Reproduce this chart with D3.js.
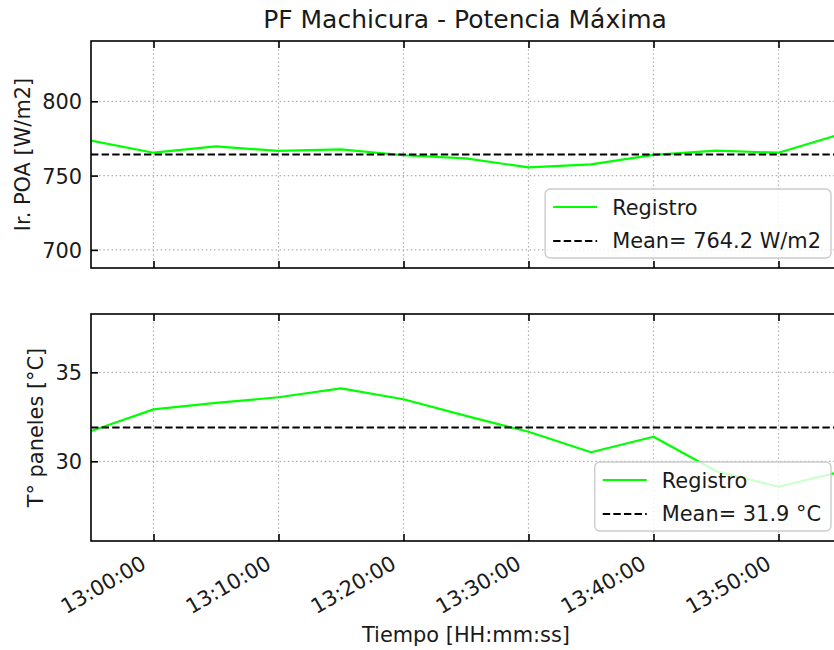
<!DOCTYPE html>
<html>
<head>
<meta charset="utf-8">
<script src="https://cdn.jsdelivr.net/npm/d3@7"></script>
<style>
  html, body { margin: 0; padding: 0; background: #fff; }
  svg { display: block; font-family: "DejaVu Sans", sans-serif; }
</style>
</head>
<body>
<svg id="chart" width="834" height="650"></svg>
<script>
// ---- data ----
const times = ["12:55","13:00","13:05","13:10","13:15","13:20","13:25","13:30","13:35","13:40","13:45","13:50","13:55"];
const irradiance = [773.5, 765.4, 769.7, 766.6, 767.7, 763.7, 761.6, 755.5, 757.6, 763.9, 766.8, 765.4, 778.0];
const temperature = [31.70, 32.92, 33.28, 33.60, 34.10, 33.49, 32.55, 31.66, 30.51, 31.38, 29.45, 28.57, 29.42];
const irrMean = 764.2;
const tempMean = 31.9;
const irrLimits = [687.8, 840.6];
const tempLimits = [25.52, 38.28];
const irrTicks = [700, 750, 800];
const tempTicks = [30, 35];
const xDomain = ["12:55", "13:55"];
const titleText = "PF Machicura - Potencia Máxima";
const xLabel = "Tiempo [HH:mm:ss]";
const irrLabel = "Ir. POA [W/m2]";
const tempLabel = "T° paneles [°C]";
const seriesName = "Registro";
const irrMeanLabel = "Mean= 764.2 W/m2";
const tempMeanLabel = "Mean= 31.9 °C";

// ---- layout ----
const parse = d3.timeParse("%H:%M");
const svg = d3.select("#chart");
const left = 91, right = 841;
const panels = [
  {top: 41, bottom: 268, values: irradiance, mean: irrMean, lim: irrLimits, ticks: irrTicks, label: irrLabel, meanLabel: irrMeanLabel, id: "p1"},
  {top: 314, bottom: 541, values: temperature, mean: tempMean, lim: tempLimits, ticks: tempTicks, label: tempLabel, meanLabel: tempMeanLabel, id: "p2"}
];
const x = d3.scaleTime().domain(xDomain.map(parse)).range([left, right]);
const xTicks = d3.timeMinute.every(10).range(parse("12:55"), new Date(parse("13:55").getTime() + 1));
const fmt = d3.timeFormat("%H:%M:%S");
const green = "#00ff00";
const textColor = "#1a1a1a";
const fs = 20.9;

panels.forEach((p, pi) => {
  const y = d3.scaleLinear().domain(p.lim).range([p.bottom, p.top]);
  const g = svg.append("g");
  g.append("clipPath").attr("id", "clip" + p.id)
    .append("rect").attr("x", left).attr("y", p.top).attr("width", right - left).attr("height", p.bottom - p.top);

  // grid
  const grid = g.append("g").attr("stroke", "#b0b0b0").attr("stroke-width", 1.2).attr("stroke-dasharray", "1.5,2.6");
  xTicks.forEach(t => grid.append("line").attr("x1", x(t)).attr("x2", x(t)).attr("y1", p.top).attr("y2", p.bottom));
  p.ticks.forEach(v => grid.append("line").attr("x1", left).attr("x2", right).attr("y1", y(v)).attr("y2", y(v)));

  // data
  const data = times.map((t, i) => ({t: parse(t), v: p.values[i]}));
  const plot = g.append("g").attr("clip-path", `url(#clip${p.id})`);
  plot.append("path").datum(data)
    .attr("fill", "none").attr("stroke", green).attr("stroke-width", 2.2)
    .attr("stroke-linejoin", "round")
    .attr("d", d3.line().x(d => x(d.t)).y(d => y(d.v)));
  plot.append("line").attr("x1", left).attr("x2", right).attr("y1", y(p.mean)).attr("y2", y(p.mean))
    .attr("stroke", "#000").attr("stroke-width", 2).attr("stroke-dasharray", "7.4,3.2");

  // axes via d3 axes (inward ticks)
  const axB = g.append("g").attr("transform", `translate(0,${p.bottom})`)
    .call(d3.axisBottom(x).tickValues(xTicks).tickSizeInner(-7).tickSizeOuter(0).tickFormat(""));
  const axT = g.append("g").attr("transform", `translate(0,${p.top})`)
    .call(d3.axisTop(x).tickValues(xTicks).tickSizeInner(-7).tickSizeOuter(0).tickFormat(""));
  const axL = g.append("g").attr("transform", `translate(${left},0)`)
    .call(d3.axisLeft(y).tickValues(p.ticks).tickSizeInner(-7).tickSizeOuter(0).tickPadding(9));
  const axR = g.append("g").attr("transform", `translate(${right},0)`)
    .call(d3.axisRight(y).tickValues(p.ticks).tickSizeInner(-7).tickSizeOuter(0).tickFormat(""));
  [axB, axT, axL, axR].forEach(a => {
    a.select(".domain").remove();
    a.selectAll(".tick line").attr("stroke", "#000").attr("stroke-width", 1.6);
  });
  axL.selectAll(".tick text").attr("font-size", fs).attr("fill", textColor)
    .attr("font-family", "DejaVu Sans").attr("x", -9).attr("dy", "0.36em");

  // spines
  g.append("rect").attr("x", left).attr("y", p.top).attr("width", right - left).attr("height", p.bottom - p.top)
    .attr("fill", "none").attr("stroke", "#000").attr("stroke-width", 1.6);

  // y label
  let minX = Infinity;
  axL.selectAll(".tick text").each(function() {
    const b = this.getBBox();
    minX = Math.min(minX, left + b.x);
  });
  const ylx = minX - 12;
  const ylY = (p.top + p.bottom) / 2;
  g.append("text").attr("transform", `translate(${ylx},${ylY}) rotate(-90)`)
    .attr("text-anchor", "middle").attr("font-size", fs).attr("fill", textColor)
    .text(p.label);

  // legend
  const leg = g.append("g");
  const t1 = leg.append("text").attr("font-size", fs).attr("fill", textColor).text(seriesName);
  const t2 = leg.append("text").attr("font-size", fs).attr("fill", textColor).text(p.meanLabel);
  const tw = Math.max(t1.node().getComputedTextLength(), t2.node().getComputedTextLength());
  const bw = 67 + tw + 10, bh = 69;
  const bx = right - 10 - bw, by = p.bottom - 10 - bh;
  leg.insert("rect", "text").attr("x", bx).attr("y", by).attr("width", bw).attr("height", bh)
    .attr("rx", 5).attr("fill", "#fff").attr("fill-opacity", 0.8)
    .attr("stroke", "#cccccc").attr("stroke-width", 1.4);
  t1.attr("x", bx + 67).attr("y", by + 26);
  t2.attr("x", bx + 67).attr("y", by + 59);
  leg.append("line").attr("x1", bx + 8).attr("x2", bx + 52).attr("y1", by + 18).attr("y2", by + 18)
    .attr("stroke", green).attr("stroke-width", 2.2);
  leg.append("line").attr("x1", bx + 8).attr("x2", bx + 52).attr("y1", by + 52).attr("y2", by + 52)
    .attr("stroke", "#000").attr("stroke-width", 2).attr("stroke-dasharray", "7.4,3.2");

  // x tick labels on bottom panel
  if (pi === 1) {
    const lab = g.append("g");
    xTicks.forEach(t => {
      lab.append("text").attr("transform", `translate(${x(t) - 6},${p.bottom + 26.5}) rotate(-30)`)
        .attr("text-anchor", "end").attr("font-size", fs).attr("fill", textColor)
        .text(fmt(t));
    });
    g.append("text").attr("x", (left + right) / 2).attr("y", 642)
      .attr("text-anchor", "middle").attr("font-size", fs).attr("fill", textColor).text(xLabel);
  }
});

// title
svg.append("text").attr("x", (left + right) / 2 - 1).attr("y", 27.5)
  .attr("text-anchor", "middle").attr("font-size", 25).attr("fill", textColor).text(titleText);
</script>
</body>
</html>
